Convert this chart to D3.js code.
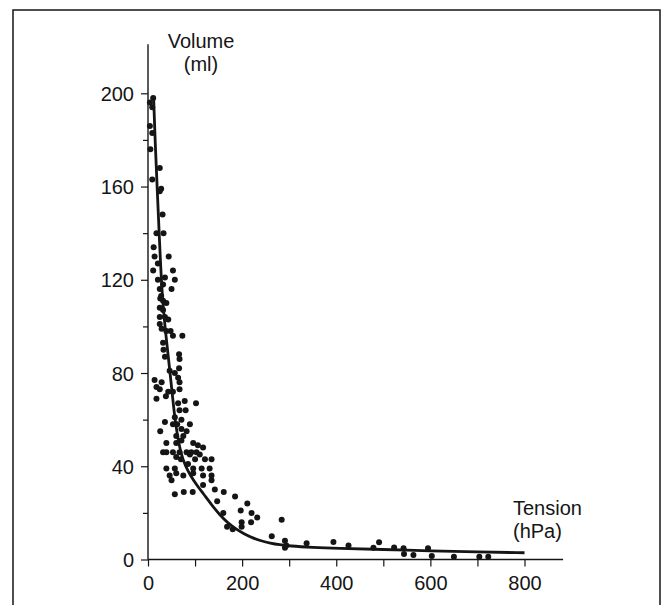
<!DOCTYPE html>
<html>
<head>
<meta charset="utf-8">
<script src="https://cdn.jsdelivr.net/npm/d3@7"></script>
<style>
    body { margin: 0; background: #fff; }
    svg { display: block; font-family: "Liberation Sans", Arial, Helvetica, sans-serif; }
</style>
</head>
<body>
<div id="chart"></div>
<script>
// measured points: [tension (hPa), volume (ml)]
const observed = [
    [11, 198], [4, 196], [9, 194], [4, 186], [9, 183], [5, 176], [25, 168], [9, 163], [28, 159],
    [25, 158], [31, 148], [18, 140], [33, 140], [12, 134], [14, 130], [44, 130], [21, 127], [11, 124],
    [53, 124], [21, 120], [36, 121], [57, 120], [32, 118], [25, 116], [50, 116], [28, 113],
    [26, 112], [32, 111], [39, 110], [25, 108], [32, 107], [25, 104], [36, 104], [43, 103], [25, 101],
    [29, 99], [39, 98], [48, 98], [53, 96], [73, 96], [32, 93], [33, 90], [36, 87], [66, 88], [67, 86],
    [66, 82], [46, 81], [57, 80], [64, 78], [14, 77], [29, 76], [67, 76], [18, 74], [25, 73], [53, 72],
    [67, 73], [43, 72],
    [18, 69], [38, 70], [64, 67], [78, 68], [102, 67], [67, 64], [80, 64], [57, 61], [71, 60], [36, 59],
    [89, 58], [53, 58], [62, 58], [26, 55], [71, 56], [82, 55], [60, 53], [75, 53], [71, 51], [39, 50],
    [60, 50], [96, 50], [106, 49], [117, 48], [32, 46], [39, 46], [53, 46], [67, 46], [82, 46], [92, 46],
    [103, 46], [60, 44], [89, 45], [110, 45], [70, 43], [100, 43], [121, 43], [135, 43], [85, 41],
    [39, 39], [57, 39], [96, 39], [114, 39], [131, 39], [46, 36], [75, 36], [117, 36], [135, 36],
    [50, 34], [57, 28], [76, 29], [95, 29], [60, 37], [96, 37],
    [117, 32], [135, 34], [142, 30], [161, 29], [147, 25], [185, 27], [160, 20], [211, 24], [197, 21],
    [220, 20], [232, 18], [219, 16], [199, 16], [168, 14], [180, 13], [199, 14], [284, 17], [263, 10],
    [291, 8], [291, 5], [294, 6], [337, 7],
    [394, 7.5], [426, 6], [479, 5], [491, 7.4], [523, 5.2], [543, 4.8], [544, 2.4], [564, 1.9],
    [595, 4.8], [603, 1.5], [650, 1.2], [704, 1.2], [723, 1.2]
];

// fitted curve
const fitTension = [12, 15, 20, 25, 30, 38, 47, 54, 60, 70, 80, 90, 105, 117, 135, 153, 170, 188, 205, 223, 240, 260, 280, 300, 350, 400, 500, 600, 700, 800];
const fitVolume = [198, 180, 157, 134, 113, 96, 80, 66, 56, 45, 40, 36, 31.5, 28.4, 23.5, 19, 15.6, 12.9, 10.9, 9.2, 8, 7, 6.3, 5.8, 5.2, 4.8, 4.3, 3.7, 3.2, 2.9];

const xMajor = [0, 200, 400, 600, 800];
const xTicks = [0, 100, 200, 300, 400, 500, 600, 700, 800];
const yMajor = [0, 40, 80, 120, 160, 200];
const yTicks = [0, 20, 40, 60, 80, 100, 120, 140, 160, 180, 200];

const width = 666;
const height = 605;
const ink = "#151515";

const svg = d3.select("#chart")
    .append("svg")
    .attr("width", width)
    .attr("height", height);

// frame around the figure (cut at the bottom like the scan)
svg.append("rect")
    .attr("x", 13)
    .attr("y", 10)
    .attr("width", 647)
    .attr("height", 620)
    .attr("fill", "none")
    .attr("stroke", ink)
    .attr("stroke-width", 1.5);

const x = d3.scaleLinear().domain([0, 800]).range([148, 524.5]);
const y = d3.scaleLinear().domain([0, 200]).range([559.5, 93.3]);

// axis lines run past the last tick
svg.append("line")
    .attr("x1", x(0)).attr("x2", x(882))
    .attr("y1", y(0)).attr("y2", y(0))
    .attr("stroke", ink).attr("stroke-width", 1.6);
svg.append("line")
    .attr("x1", x(0)).attr("x2", x(0))
    .attr("y1", y(0)).attr("y2", y(221))
    .attr("stroke", ink).attr("stroke-width", 1.4);

const xAxis = svg.append("g")
    .attr("transform", `translate(0,${y(0)})`)
    .call(d3.axisBottom(x)
        .tickValues(xTicks)
        .tickSize(7)
        .tickPadding(9)
        .tickFormat(d => xMajor.includes(d) ? d : ""));
xAxis.select(".domain").remove();

const yAxis = svg.append("g")
    .attr("transform", `translate(${x(0)},0)`)
    .call(d3.axisLeft(y)
        .tickValues(yTicks)
        .tickSize(7)
        .tickPadding(7)
        .tickFormat(d => yMajor.includes(d) ? d : ""));
yAxis.select(".domain").remove();

yAxis.selectAll(".tick line")
    .attr("x2", d => yMajor.includes(d) ? -7 : -5);

svg.selectAll(".tick line").attr("stroke", ink).attr("stroke-width", 1.2);
svg.selectAll(".tick text")
    .attr("fill", ink)
    .style("font-size", "20px");
yAxis.selectAll(".tick text").attr("dy", "0.36em");

// data points
svg.append("g")
    .selectAll("circle")
    .data(observed)
    .enter()
    .append("circle")
    .attr("cx", d => x(d[0]))
    .attr("cy", d => y(d[1]))
    .attr("r", 3)
    .attr("fill", ink);

// fitted curve
const line = d3.line()
    .x(d => x(d[0]))
    .y(d => y(d[1]))
    .curve(d3.curveBasis);

svg.append("path")
    .datum(fitTension.map((t, i) => [t, fitVolume[i]]))
    .attr("d", line)
    .attr("fill", "none")
    .attr("stroke", ink)
    .attr("stroke-width", 2.8);

// axis titles
const yTitle = svg.append("text")
    .attr("x", 201)
    .attr("text-anchor", "middle")
    .attr("fill", ink)
    .style("font-size", "20px");
yTitle.append("tspan").attr("x", 201).attr("y", 48).text("Volume");
yTitle.append("tspan").attr("x", 201).attr("y", 71).text("(ml)");

const xTitle = svg.append("text")
    .attr("fill", ink)
    .style("font-size", "20px");
xTitle.append("tspan").attr("x", 513).attr("y", 515).text("Tension");
xTitle.append("tspan").attr("x", 513).attr("y", 538).text("(hPa)");
</script>
</body>
</html>
